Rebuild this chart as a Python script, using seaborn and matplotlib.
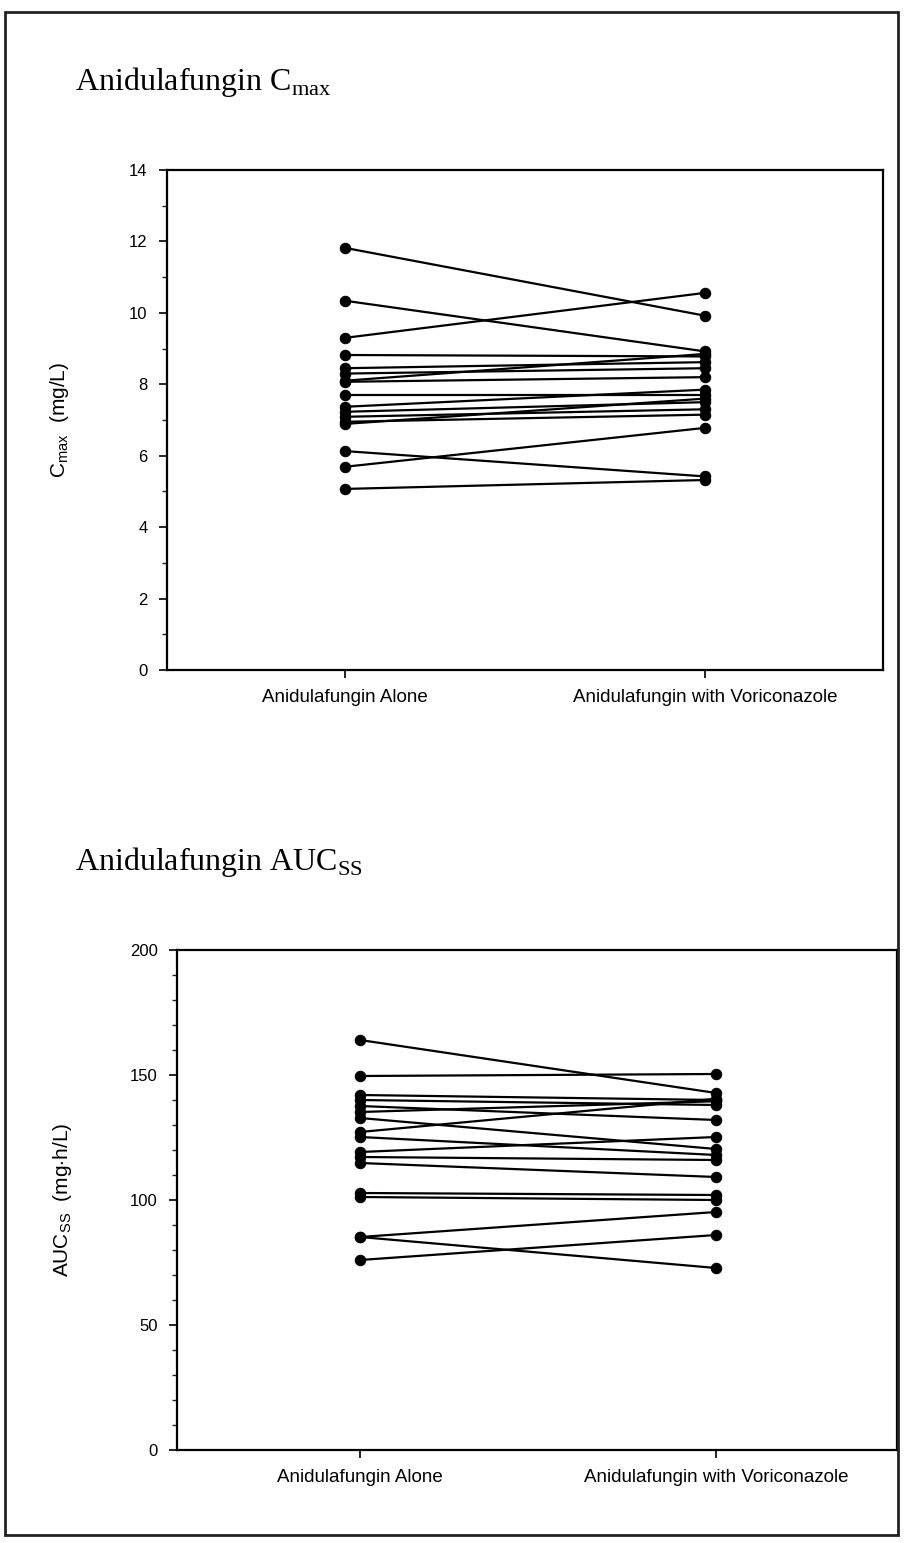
import pandas as pd
import matplotlib.pyplot as plt
import seaborn as sns
from matplotlib.patches import Rectangle
from matplotlib.ticker import MultipleLocator

# treatment groups (x axis)
groups = ['Anidulafungin Alone', 'Anidulafungin with Voriconazole']

# Cmax (mg/L) per subject
cmax_alone = [11.82, 10.34, 9.30, 8.82, 8.45, 8.30, 8.10, 8.07, 7.70,
              7.37, 7.23, 7.09, 6.95, 6.89, 6.13, 5.69, 5.07]
cmax_vori = [9.92, 8.92, 10.56, 8.78, 8.62, 8.45, 8.85, 8.20, 7.70,
             7.85, 7.50, 7.30, 7.15, 7.60, 5.42, 6.78, 5.32]

# AUCss (mg*h/L) per subject
auc_alone = [164.0, 149.6, 142.0, 140.0, 137.6, 135.2, 132.8, 127.2, 125.2,
             119.2, 117.2, 114.8, 102.8, 101.2, 85.2, 85.2, 76.0]
auc_vori = [142.8, 150.4, 140.0, 138.0, 132.0, 139.5, 120.4, 140.5, 118.0,
            125.2, 116.0, 109.2, 102.0, 100.0, 95.2, 72.8, 86.0]


def long_table(alone, vori):
    n = len(alone)
    return pd.DataFrame({
        'subject': list(range(n)) * 2,
        'group': [0] * n + [1] * n,
        'value': alone + vori,
    })


sns.set_theme(style='ticks')
plt.rcParams['font.family'] = ['Liberation Sans', 'DejaVu Sans']
plt.rcParams['mathtext.fontset'] = 'custom'
plt.rcParams['mathtext.rm'] = 'Liberation Serif'
plt.rcParams['mathtext.sf'] = 'Liberation Sans'
plt.rcParams['text.color'] = 'black'
plt.rcParams['axes.labelcolor'] = 'black'

fig = plt.figure(figsize=(9.06, 15.43), dpi=100)

# outer frame
fig.patches.append(Rectangle((5 / 906, 8 / 1543), 893 / 906, 1523 / 1543,
                             transform=fig.transFigure, fill=False,
                             edgecolor='#222222', linewidth=2.0))

ax1 = fig.add_axes([167 / 906, 873 / 1543, 716 / 906, 500 / 1543])
ax2 = fig.add_axes([177 / 906, 93 / 1543, 720 / 906, 500 / 1543])

panels = [
    (ax1, long_table(cmax_alone, cmax_vori), (0, 14), 2, 1, (-0.494, 1.494),
     r'C$_{\mathsf{max}}$  (mg/L)', 42),
    (ax2, long_table(auc_alone, auc_vori), (0, 200), 50, 10, (-0.514, 1.508),
     r'AUC$_{\mathsf{SS}}$  (mg$\cdot$h/L)', 40),
]

for ax, df, ylim, major, minor, xlim, ylab, pad in panels:
    sns.lineplot(data=df, x='group', y='value', units='subject',
                 estimator=None, color='black', marker='o', markersize=7.5,
                 markeredgecolor='black', linewidth=1.6, ax=ax)
    ax.set_ylim(*ylim)
    ax.set_xlim(*xlim)
    ax.yaxis.set_major_locator(MultipleLocator(major))
    ax.yaxis.set_minor_locator(MultipleLocator(minor))
    ax.set_xticks([0, 1])
    ax.set_xticklabels(groups)
    ax.set_xlabel('')
    ax.set_ylabel(ylab, fontsize=15, labelpad=pad)
    ax.tick_params(axis='both', which='major', direction='out', length=6,
                   width=1.2, labelsize=12, colors='black', pad=8)
    ax.tick_params(axis='x', which='major', labelsize=13.5)
    ax.tick_params(axis='y', which='minor', direction='out', length=3.5,
                   width=1.0)
    for s in ax.spines.values():
        s.set_visible(True)
        s.set_linewidth(1.6)
        s.set_color('black')

fig.text(75 / 906, 1 - 82 / 1543, r'Anidulafungin C$_{\mathrm{max}}$',
         family='Liberation Serif', fontsize=23, va='center', ha='left',
         color='black')
fig.text(75 / 906, 1 - 862 / 1543, r'Anidulafungin AUC$_{\mathrm{SS}}$',
         family='Liberation Serif', fontsize=23, va='center', ha='left',
         color='black')

fig.savefig('out.png', dpi=100, facecolor='white')
